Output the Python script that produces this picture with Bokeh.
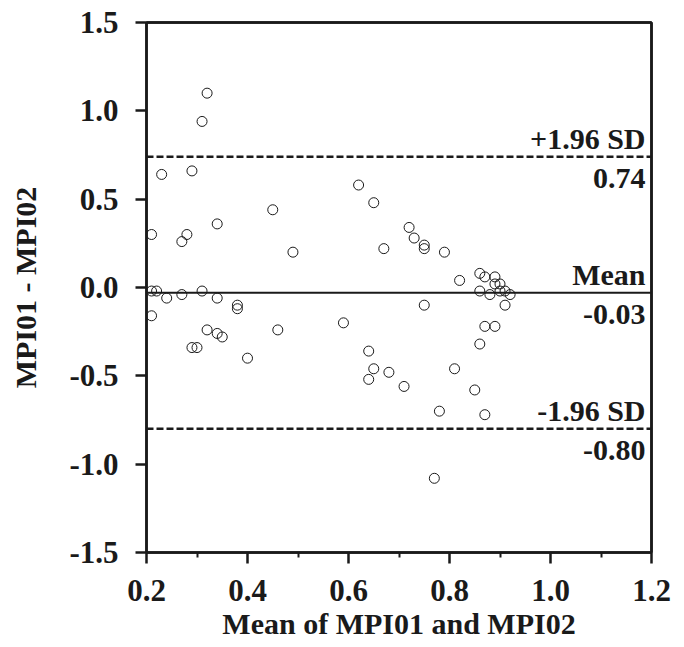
from bokeh.plotting import figure
from bokeh.models import Range1d, FixedTicker, PrintfTickFormatter, Span, Label, LinearAxis
from bokeh.embed import file_html
from bokeh.resources import INLINE

# Mean of the two measurements (x) and their difference (y)
mean_vals = [0.32, 0.31, 0.23, 0.29, 0.62, 0.65, 0.45, 0.34, 0.72, 0.21,
             0.28, 0.73, 0.27, 0.75, 0.75, 0.67, 0.49, 0.79, 0.86, 0.87,
             0.89, 0.82, 0.89, 0.90, 0.21, 0.22, 0.31, 0.86, 0.90, 0.91,
             0.27, 0.88, 0.92, 0.24, 0.34, 0.38, 0.75, 0.91, 0.38, 0.21,
             0.59, 0.87, 0.89, 0.32, 0.46, 0.34, 0.35, 0.86, 0.29, 0.30,
             0.64, 0.40, 0.65, 0.81, 0.68, 0.64, 0.71, 0.85, 0.78, 0.87,
             0.77]
diff_vals = [1.10, 0.94, 0.64, 0.66, 0.58, 0.48, 0.44, 0.36, 0.34, 0.30,
             0.30, 0.28, 0.26, 0.24, 0.22, 0.22, 0.20, 0.20, 0.08, 0.06,
             0.06, 0.04, 0.02, 0.02, -0.02, -0.02, -0.02, -0.02, -0.02, -0.02,
             -0.04, -0.04, -0.04, -0.06, -0.06, -0.10, -0.10, -0.10, -0.12, -0.16,
             -0.20, -0.22, -0.22, -0.24, -0.24, -0.26, -0.28, -0.32, -0.34, -0.34,
             -0.36, -0.40, -0.46, -0.46, -0.48, -0.52, -0.56, -0.58, -0.70, -0.72,
             -1.08]

mean_diff = -0.03
upper_loa = 0.74
lower_loa = -0.80
line_names = ["+1.96 SD", "Mean", "-1.96 SD"]
line_values = [upper_loa, mean_diff, lower_loa]
line_texts = ["0.74", "-0.03", "-0.80"]

x_ticks = [0.2, 0.4, 0.6, 0.8, 1.0, 1.2]
x_minor = [0.3, 0.5, 0.7, 0.9, 1.1]
y_ticks = [-1.5, -1.0, -0.5, 0.0, 0.5, 1.0, 1.5]

FONT = "Liberation Serif"
INK = "#1a1a1a"

p = figure(frame_width=505, frame_height=530,
           min_border_left=146, min_border_top=22, min_border_right=30, min_border_bottom=80,
           x_range=Range1d(0.2, 1.2), y_range=Range1d(-1.5, 1.5),
           output_backend="svg", toolbar_location=None,
           x_axis_label="Mean of MPI01 and MPI02", y_axis_label="MPI01 - MPI02")

p.xgrid.visible = False
p.ygrid.visible = False
p.outline_line_color = INK
p.outline_line_width = 2.5
p.background_fill_color = "white"
p.border_fill_color = "white"

p.xaxis.ticker = FixedTicker(ticks=x_ticks, minor_ticks=x_minor)
p.yaxis.ticker = FixedTicker(ticks=y_ticks)
for ax in (p.xaxis, p.yaxis):
    ax.formatter = PrintfTickFormatter(format="%.1f")
    ax.axis_line_color = INK
    ax.axis_line_width = 2.5
    ax.major_tick_line_color = INK
    ax.major_tick_line_width = 2.5
    ax.minor_tick_line_color = INK
    ax.minor_tick_line_width = 2
    ax.major_tick_out = 11
    ax.major_tick_in = 0
    ax.minor_tick_out = 5
    ax.minor_tick_in = 0
    ax.major_label_text_font = FONT
    ax.major_label_text_font_style = "bold"
    ax.major_label_text_font_size = "31px"
    ax.major_label_text_color = INK
    ax.axis_label_text_font = FONT
    ax.axis_label_text_font_style = "bold"
    ax.axis_label_text_font_size = "30px"
    ax.axis_label_text_color = INK

p.xaxis.major_label_standoff = 16
p.xaxis.axis_label_standoff = 3
p.yaxis.major_label_standoff = 17
p.yaxis.axis_label_standoff = 24

# plain border lines on the top and right sides
for side in ("right", "above"):
    border = LinearAxis(ticker=FixedTicker(ticks=[]), major_label_text_font_size="0px",
                        axis_line_color=INK, axis_line_width=2.5,
                        major_tick_out=0, major_tick_in=0, minor_tick_out=0, minor_tick_in=0)
    p.add_layout(border, side)

p.scatter(mean_vals, diff_vals, marker="circle", size=10,
          fill_alpha=0, line_color=INK, line_width=1)

for name, val, txt in zip(line_names, line_values, line_texts):
    dash = "solid" if name == "Mean" else "7 3"
    width = 2 if name == "Mean" else 2.5
    p.add_layout(Span(location=val, dimension="width", line_color=INK,
                      line_width=width, line_dash=dash))
    p.add_layout(Label(x=1.2, y=val, x_offset=-6, y_offset=18, text=name,
                       text_align="right", text_baseline="alphabetic",
                       text_font=FONT, text_font_style="bold",
                       text_font_size="30px", text_color=INK))
    p.add_layout(Label(x=1.2, y=val, x_offset=-6, y_offset=-22, text=txt,
                       text_align="right", text_baseline="alphabetic",
                       text_font=FONT, text_font_style="bold",
                       text_font_size="30px", text_color=INK))

open("out.html", "w").write(file_html(p, INLINE))
